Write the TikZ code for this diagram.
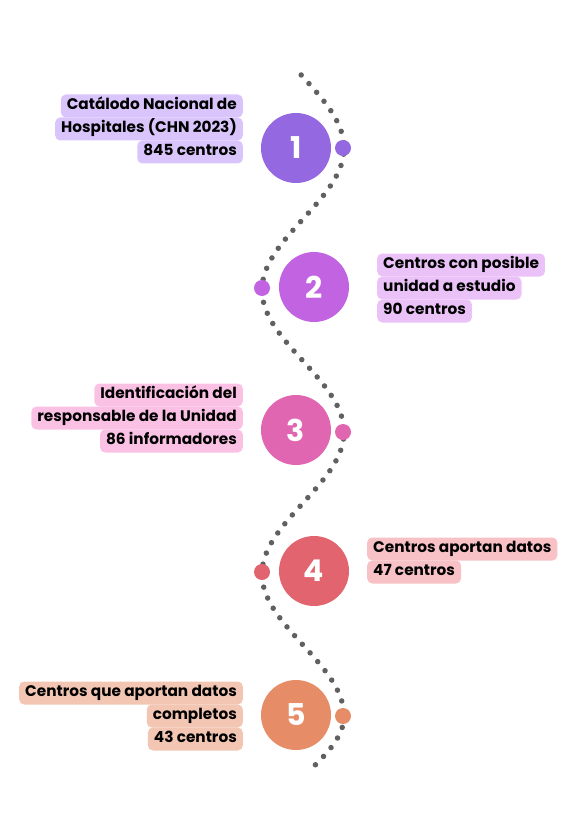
\documentclass[tikz,border=0pt]{standalone}
\usepackage{fontspec}
\setmainfont{Poppins}
\definecolor{cA}{HTML}{9368E0}\definecolor{bA}{HTML}{D9C5FB}
\definecolor{cB}{HTML}{C264E2}\definecolor{bB}{HTML}{EBC2F7}
\definecolor{cC}{HTML}{E066B2}\definecolor{bC}{HTML}{FBC1E5}
\definecolor{cD}{HTML}{E2646F}\definecolor{bD}{HTML}{F7C1C5}
\definecolor{cE}{HTML}{E68C67}\definecolor{bE}{HTML}{F2C6B3}
\definecolor{dotgray}{HTML}{606060}
\tikzset{
  lbl/.style={fill=#1, rounded corners=5pt, inner xsep=6pt, inner ysep=4pt,
    text height=11.2pt, text depth=3.8pt, font=\fontsize{15.3pt}{16pt}\selectfont\bfseries, text=black},
  stepcircle/.style={circle, fill=#1, minimum size=70pt, inner sep=0pt,
    text=white, font=\fontsize{30pt}{31pt}\selectfont\bfseries},
  smalldot/.style={circle, fill=#1, minimum size=16pt, inner sep=0pt},
  wave/.style={dotgray, line width=5.5pt, line cap=round, dash pattern=on 0pt off 11.6pt}
}
\begin{document}
\begin{tikzpicture}[x=1pt,y=-1pt]
\useasboundingbox (0,0) rectangle (581,829);
% dotted wave
\draw[wave] plot[domain=75:716, samples=220, variable=\t] ({303+41*cos(1.267606*(\t-148))}, \t);
\draw[wave] plot[domain=716:771, samples=30, variable=\t] ({303+41*cos(1.484*(\t-716))}, \t);
% small dots on the wave
\node[smalldot=cA] (dA) at (343,148) {};
\node[smalldot=cB] (dB) at (262,288) {};
\node[smalldot=cC] (dC) at (343,432) {};
\node[smalldot=cD] (dD) at (262,572) {};
\node[smalldot=cE] (dE) at (343,716) {};
% step circles
\node[stepcircle=cA] (s1) at (296,148) {1};
\node[stepcircle=cB] (s2) at (314,287) {2};
\node[stepcircle=cC] (s3) at (296,430) {3};
\node[stepcircle=cD] (s4) at (314,571) {4};
\node[stepcircle=cE] (s5) at (296,715) {5};
% label 1
\node[lbl=bA, anchor=east] (l1a) at (243,106) {Catálodo Nacional de};
\node[lbl=bA, anchor=east] (l1b) at (243,129) {Hospitales (CHN 2023)\ };
\node[lbl=bA, anchor=east] (l1c) at (243,152) {845 centros};
% label 2
\node[lbl=bB, anchor=west] (l2a) at (377,265) {Centros con posible};
\node[lbl=bB, anchor=west] (l2b) at (377,288) {unidad a estudio\ };
\node[lbl=bB, anchor=west] (l2c) at (377,311) {90 centros};
% label 3
\node[lbl=bC, anchor=east] (l3a) at (243,395) {Identificación del};
\node[lbl=bC, anchor=east] (l3b) at (243,418) {responsable de la Unidad\ };
\node[lbl=bC, anchor=east] (l3c) at (243,441) {86 informadores};
% label 4
\node[lbl=bD, anchor=west] (l4a) at (367,549) {Centros aportan datos};
\node[lbl=bD, anchor=west] (l4b) at (367,572) {47 centros};
% label 5
\node[lbl=bE, anchor=east] (l5a) at (243,693) {Centros que aportan datos};
\node[lbl=bE, anchor=east] (l5b) at (243,716) {completos};
\node[lbl=bE, anchor=east] (l5c) at (243,739) {43 centros};
\end{tikzpicture}
\end{document}
